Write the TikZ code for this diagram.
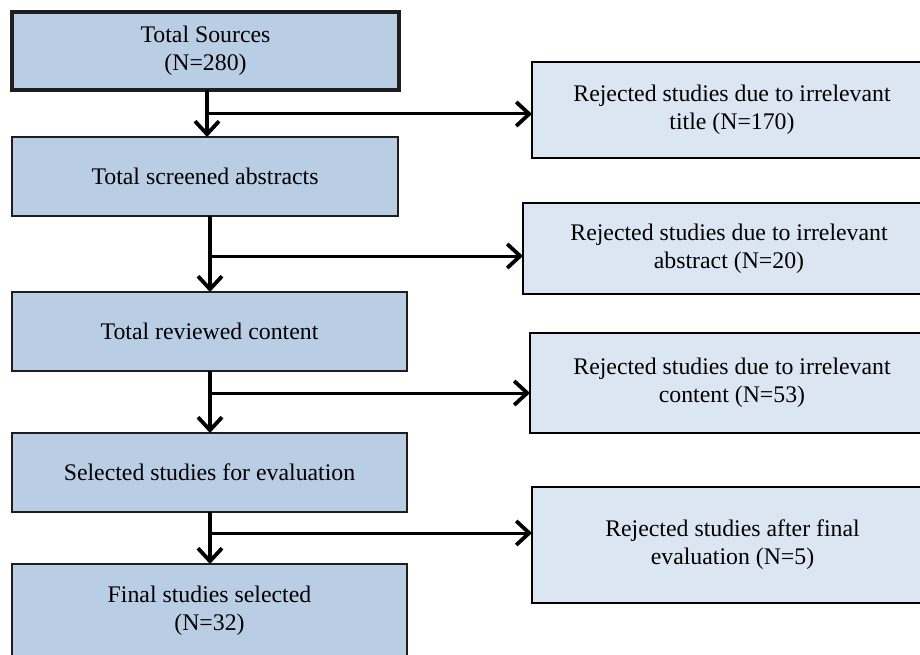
\documentclass[tikz,border=0pt]{standalone}
\usepackage{fontspec}
\setmainfont{Liberation Serif}
\usetikzlibrary{arrows.meta}
\definecolor{lfill}{RGB}{185,205,229}
\definecolor{rfill}{RGB}{220,230,242}
\definecolor{lborder}{RGB}{30,30,30}
\tikzset{
  lbox/.style={draw=lborder, line width=1.6pt, fill=lfill, inner sep=0pt, outer sep=0pt, align=center,
    font=\fontsize{23.8}{28}\selectfont},
  rbox/.style={draw=black, line width=2pt, fill=rfill, inner sep=0pt, outer sep=0pt, align=center,
    font=\fontsize{23.8}{28}\selectfont},
  downarrow/.style={line width=3.8pt, -{Straight Barb[length=13pt,width=24pt,line width=3.8pt]}},
  sidearrow/.style={line width=3pt, -{Straight Barb[length=13pt,width=24pt,line width=3.8pt]}}
}
\begin{document}
\begin{tikzpicture}[x=1pt,y=-1pt]
\useasboundingbox (0,0) rectangle (920,655);
\clip (0,0) rectangle (920,655);
% left column
\node (b1) [lbox, line width=4.4pt, minimum width=387pt, minimum height=78pt] at (205.5,51) {Total Sources\\(N=280)};
\node (b2) [lbox, minimum width=386pt, minimum height=79pt] at (205,176.5) {Total screened abstracts};
\node (b3) [lbox, minimum width=395pt, minimum height=79pt] at (209.5,331.5) {Total reviewed content};
\node (b4) [lbox, minimum width=395pt, minimum height=79pt] at (209.5,472.5) {Selected studies for evaluation};
\node (b5) [lbox, minimum width=395pt, minimum height=94pt] at (209.5,611) {Final studies selected\\(N=32)};
% right column
\node (r1) [rbox, minimum width=400pt, minimum height=96pt] at (732,110) {Rejected studies due to irrelevant\\title (N=170)};
\node (r2) [rbox, minimum width=412pt, minimum height=91pt] at (729,248.5) {Rejected studies due to irrelevant\\abstract (N=20)};
\node (r3) [rbox, minimum width=404pt, minimum height=100pt] at (732,383) {Rejected studies due to irrelevant\\content (N=53)};
\node (r4) [rbox, minimum width=401pt, minimum height=116pt] at (732.5,545) {Rejected studies after final\\evaluation (N=5)};
% junctions
\coordinate (j1) at (207,114);
\coordinate (j2) at (210,256);
\coordinate (j3) at (210,393);
\coordinate (j4) at (210,533);
% connectors
\draw[downarrow] (j1 |- b1.south) -- (j1 |- b2.north);
\draw[downarrow] (j2 |- b2.south) -- (j2 |- b3.north);
\draw[downarrow] (j3 |- b3.south) -- (j3 |- b4.north);
\draw[downarrow] (j4 |- b4.south) -- (j4 |- b5.north);
\draw[sidearrow] (j1) -- (j1 -| r1.west);
\draw[sidearrow] (j2) -- (j2 -| r2.west);
\draw[sidearrow] (j3) -- (j3 -| r3.west);
\draw[sidearrow] (j4) -- (j4 -| r4.west);
\end{tikzpicture}
\end{document}
